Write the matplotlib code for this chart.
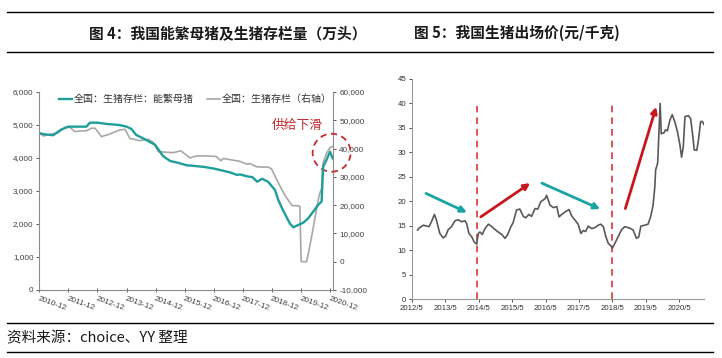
import matplotlib
matplotlib.use("Agg")
import matplotlib.pyplot as plt
import matplotlib.transforms as mtransforms
import matplotlib.dates as mdates
from matplotlib.patches import Circle
from matplotlib.lines import Line2D
import pandas as pd

plt.rcParams['font.family'] = ['Liberation Sans', 'Noto Sans CJK SC', 'DejaVu Sans']

# ---------------- data: left chart ----------------
sow_dates = ["2010-12-01", "2011-02-01", "2011-05-25", "2011-09-01", "2011-12-01", "2012-07-15",
             "2012-08-28", "2012-12-01", "2013-04-01", "2013-09-01", "2013-12-01", "2014-02-01",
             "2014-04-01", "2014-07-18", "2014-11-25", "2015-03-05", "2015-06-01", "2015-09-01",
             "2015-12-25", "2016-04-01", "2016-08-01", "2016-12-01", "2017-03-01", "2017-07-01",
             "2017-09-15", "2017-11-01", "2018-02-01", "2018-04-01", "2018-06-01", "2018-08-01",
             "2018-10-15", "2019-01-10", "2019-02-20", "2019-04-20", "2019-07-15", "2019-08-28",
             "2019-10-28", "2020-01-01", "2020-03-01", "2020-05-03", "2020-07-06", "2020-08-18",
             "2020-09-06", "2020-10-18", "2020-12-01", "2021-01-03"]
sow_values = [4750, 4720, 4690, 4860, 4950, 4950,
              5070, 5070, 5030, 5000, 4950, 4880,
              4700, 4570, 4400, 4060, 3910, 3860,
              3780, 3760, 3730, 3680, 3630, 3560,
              3490, 3500, 3440, 3420, 3280, 3370,
              3280, 3030, 2730, 2420, 2020, 1900,
              1970, 2040, 2170, 2370, 2580, 2680,
              3740, 3940, 4190, 3990]

hog_dates = ["2010-12-01", "2011-01-20", "2011-04-12", "2011-07-25", "2011-10-18", "2011-12-20",
             "2012-02-20", "2012-04-25", "2012-07-15", "2012-09-18", "2012-11-01", "2013-01-20",
             "2013-05-05", "2013-09-10", "2013-11-12", "2014-01-12", "2014-05-18", "2014-09-01",
             "2014-11-04", "2015-01-04", "2015-04-18", "2015-07-10", "2015-10-15", "2016-02-06",
             "2016-05-01", "2016-09-01", "2017-01-01", "2017-03-01", "2017-04-01", "2017-08-01",
             "2017-10-25", "2018-01-18", "2018-03-01", "2018-05-20", "2018-08-15", "2018-10-15",
             "2018-11-28", "2019-02-10", "2019-04-15", "2019-06-04", "2019-08-15", "2019-10-28",
             "2019-11-18", "2019-12-05", "2020-02-12", "2020-04-12", "2020-06-15", "2020-07-18",
             "2020-08-18", "2020-09-06", "2020-10-18", "2020-12-01", "2021-01-01"]
hog_values = [45600, 44450, 45000, 45600, 47500, 47500,
              46000, 46200, 46300, 47200, 47200, 44200,
              45150, 46600, 46800, 43600, 42800, 43300,
              42100, 38900, 38700, 38550, 39200, 36700,
              37400, 37400, 37200, 35700, 36500, 35900,
              35500, 34500, 34700, 33600, 33400, 33500,
              32800, 28500, 25000, 22600, 19800, 19800,
              19600, 0, 0, 8500, 18500, 23500,
              26000, 35000, 38300, 40300, 40700]

left_xlabels = ["2010-12", "2011-12", "2012-12", "2013-12", "2014-12", "2015-12",
                "2016-12", "2017-12", "2018-12", "2019-12", "2020-12"]
left_yticks = [0, 1000, 2000, 3000, 4000, 5000, 6000]
right_yticks = [-10000, 0, 10000, 20000, 30000, 40000, 50000, 60000]

# ---------------- data: right chart ----------------
price_dates = ["2012-07-04", "2012-07-19", "2012-09-07", "2012-10-13", "2012-11-07", "2012-12-07",
               "2013-01-04", "2013-01-25", "2013-03-04", "2013-04-10", "2013-05-07", "2013-06-04",
               "2013-07-10", "2013-08-16", "2013-09-22", "2013-10-28", "2013-12-04", "2013-12-22",
               "2014-01-16", "2014-02-16", "2014-03-13", "2014-04-10", "2014-04-28", "2014-05-16",
               "2014-06-10", "2014-07-10", "2014-08-16", "2014-09-22", "2014-10-28", "2014-12-01",
               "2015-01-10", "2015-02-13", "2015-03-13", "2015-04-19", "2015-05-13", "2015-06-19",
               "2015-07-25", "2015-09-01", "2015-09-28", "2015-11-01", "2015-12-01", "2016-01-07",
               "2016-02-07", "2016-03-10", "2016-04-25", "2016-05-13", "2016-06-19", "2016-07-25",
               "2016-09-01", "2016-09-25", "2016-11-01", "2016-12-07", "2017-01-13", "2017-02-10",
               "2017-03-16", "2017-04-22", "2017-05-22", "2017-06-16", "2017-07-13", "2017-08-10",
               "2017-09-16", "2017-10-22", "2017-11-28", "2017-12-25", "2018-01-22", "2018-02-16",
               "2018-03-16", "2018-04-13", "2018-05-01", "2018-05-28", "2018-07-01", "2018-08-10",
               "2018-09-13", "2018-11-07", "2018-12-13", "2019-01-19", "2019-02-13", "2019-03-07",
               "2019-04-19", "2019-05-25", "2019-06-22", "2019-07-19", "2019-08-07", "2019-08-16",
               "2019-09-07", "2019-09-19", "2019-10-04", "2019-10-16", "2019-11-16", "2019-12-01",
               "2019-12-22", "2020-01-19", "2020-02-13", "2020-03-13", "2020-04-10", "2020-05-07",
               "2020-05-25", "2020-06-13", "2020-07-01", "2020-08-07", "2020-09-01", "2020-09-25",
               "2020-10-10", "2020-11-07", "2020-11-25", "2020-12-19", "2021-01-07", "2021-01-28"]
price_values = [14.1, 14.5, 15.1, 14.9, 14.8, 16.0,
                17.3, 16.2, 13.4, 12.5, 12.9, 14.2,
                14.8, 16.0, 16.2, 15.8, 16.0, 15.4,
                13.4, 12.7, 11.7, 11.2, 13.4, 13.7,
                13.2, 14.4, 15.3, 14.8, 14.2, 13.7,
                13.2, 12.4, 13.1, 14.8, 15.6, 18.2,
                18.4, 16.9, 16.6, 17.3, 16.9, 18.5,
                18.4, 19.9, 20.5, 21.2, 19.2, 18.7,
                18.9, 16.8, 17.4, 17.9, 18.3, 17.0,
                16.2, 15.3, 13.4, 14.0, 13.8, 14.9,
                14.4, 14.6, 15.1, 15.3, 14.8, 12.9,
                11.4, 10.9, 10.4, 11.4, 12.7, 14.2,
                14.8, 14.5, 14.1, 12.4, 12.7, 14.9,
                15.1, 15.3, 16.8, 19.2, 23.0, 26.4,
                27.8, 33.2, 40.0, 33.8, 34.0, 34.6,
                34.4, 36.6, 37.7, 36.2, 34.2, 31.5,
                29.0, 31.2, 37.3, 37.5, 36.9, 33.2,
                30.5, 30.4, 32.5, 36.3, 36.3, 35.6]

right_xlabels = ["2012/5", "2013/5", "2014/5", "2015/5", "2016/5", "2017/5", "2018/5", "2019/5", "2020/5"]
price_yticks = [0, 5, 10, 15, 20, 25, 30, 35, 40, 45]

# turning points (dashed lines) and trend arrows
turn_dates = ["2014-04-15", "2018-05-01"]
turn_tops = [39.5, 40.0]
arrow_starts = [("2012-10-04", 21.6), ("2014-05-25", 16.8), ("2016-03-22", 23.7), ("2018-09-19", 18.5)]
arrow_ends = [("2013-12-25", 17.7), ("2015-11-16", 23.7), ("2017-12-19", 18.4), ("2019-08-22", 39.3)]
arrow_kinds = ["down", "up", "down", "up"]

# ---------------- figure ----------------
W, H = 722, 358
fig = plt.figure(figsize=(W / 100, H / 100), dpi=100)

def fx(px):
    return px / W

def fy(py):
    return 1 - py / H

# rules
for yy in (12, 52, 323, 352):
    fig.add_artist(Line2D([fx(7), fx(713)], [fy(yy), fy(yy)], color="black", lw=1.0))

cjk = ['Noto Sans CJK SC', 'DejaVu Sans']
fig.text(fx(89), fy(33), "图 4：我国能繁母猪及生猪存栏量（万头）", family=cjk, fontsize=10.6,
         fontweight="bold", ha="left", va="center", color="#1a1a1a")
fig.text(fx(414), fy(33), "图 5：我国生猪出场价(元/千克)", family=cjk, fontsize=10.6,
         fontweight="bold", ha="left", va="center", color="#1a1a1a")
fig.text(fx(7), fy(338), "资料来源：choice、YY 整理", family=cjk, fontsize=10.5,
         ha="left", va="center", color="#1a1a1a")

# ---------------- left chart ----------------
TEAL = "#1f9e9a"
GREY = "#a8a8a8"
TICKC = "#404040"
SPC = "#8c8c8c"

axL = fig.add_axes([fx(39.3), fy(290), fx(333) - fx(39.3), fy(92) - fy(290)])
axR = axL.twinx()
axL.set_zorder(axR.get_zorder() + 1)
axL.patch.set_visible(False)

sd = pd.to_datetime(sow_dates)
hd = pd.to_datetime(hog_dates)
l2, = axR.plot(hd, hog_values, color=GREY, lw=1.2)
l1, = axL.plot(sd, sow_values, color=TEAL, lw=1.7)

axL.set_ylim(0, 6000)
axR.set_ylim(-10000, 60000)
axL.set_yticks(left_yticks)
axL.set_yticklabels([f"{v:,}" for v in left_yticks])
axR.set_yticks(right_yticks)
axR.set_yticklabels([f"{v:,}" for v in right_yticks])
xt = pd.to_datetime([s + "-01" for s in left_xlabels])
axL.set_xticks(xt)
axL.set_xticklabels(left_xlabels, rotation=-20, ha="left", va="top", rotation_mode="anchor")
axL.set_xlim(pd.Timestamp("2010-12-01"), pd.Timestamp("2021-01-08"))

for a in (axL, axR):
    a.spines["top"].set_visible(False)
    for s in ("left", "right", "bottom"):
        a.spines[s].set_color(SPC)
        a.spines[s].set_linewidth(0.8)
axL.spines["right"].set_visible(False)
axR.spines["left"].set_visible(False)
axR.spines["bottom"].set_visible(False)
axL.tick_params(axis="y", labelsize=5.9, colors=TICKC, length=2, width=0.6, pad=2)
axL.tick_params(axis="x", labelsize=5.9, colors=TICKC, length=3, width=0.6, pad=2, direction="inout")
axR.tick_params(axis="y", labelsize=5.9, colors=TICKC, length=2.5, width=0.6, pad=2)
for a in (axL, axR):
    for t in a.get_xticklabels() + a.get_yticklabels():
        t.set_color(TICKC)

leg = axL.legend([l1, l2], ["全国：生猪存栏：能繁母猪", "全国：生猪存栏（右轴）"], ncol=2,
                 loc="upper left", bbox_to_anchor=(0.035, 1.035), frameon=False,
                 prop={"family": cjk, "size": 7.2}, handlelength=1.3, handletextpad=0.2,
                 columnspacing=1.3)
for t in leg.get_texts():
    t.set_color("#333333")

RED_T = "#c62a2f"
axL.text(pd.Timestamp("2019-10-20"), 4980, "供给下滑", family=cjk, fontsize=9.2,
         color=RED_T, ha="center", va="center")
circ_x = mdates.date2num(pd.Timestamp("2020-12-22"))
circ_tr = fig.dpi_scale_trans + mtransforms.ScaledTranslation(circ_x, 4160, axL.transData)
circ = Circle((0, 0), radius=0.19, transform=circ_tr, fill=False, edgecolor=RED_T,
              lw=1.3, linestyle=(0, (3.5, 2.5)), clip_on=False)
axL.add_artist(circ)

# ---------------- right chart ----------------
axP = fig.add_axes([fx(411.7), fy(299), fx(704.3) - fx(411.7), fy(79) - fy(299)])
pdates = pd.to_datetime(price_dates)
axP.plot(pdates, price_values, color="#595959", lw=1.2, zorder=3)
axP.set_ylim(0, 45)
axP.set_yticks(price_yticks)
pxt = pd.to_datetime([s.replace("/", "-") + "-01" for s in right_xlabels])
axP.set_xticks(pxt)
axP.set_xticklabels(right_xlabels)
axP.set_xlim(pd.Timestamp("2012-05-01"), pd.Timestamp("2021-01-28"))
for s in ("top", "right"):
    axP.spines[s].set_visible(False)
for s in ("left", "bottom"):
    axP.spines[s].set_color("#999999")
    axP.spines[s].set_linewidth(0.8)
axP.tick_params(axis="both", labelsize=5.6, colors="#333333", length=2, width=0.6, pad=2)
for t in axP.get_xticklabels() + axP.get_yticklabels():
    t.set_color("#333333")

RED_D = "#e0323a"
axP.vlines(pd.to_datetime(turn_dates), 0, turn_tops, colors=RED_D, lw=1.2,
           linestyles=(0, (4, 3)), zorder=2)

ARROW_C = {"down": "#1aa3a3", "up": "#c8161d"}
for (sdte, sv), (edte, ev), kind in zip(arrow_starts, arrow_ends, arrow_kinds):
    axP.annotate("", xy=(pd.Timestamp(edte), ev), xytext=(pd.Timestamp(sdte), sv),
                 arrowprops=dict(arrowstyle="-|>", color=ARROW_C[kind], lw=2.0,
                                 mutation_scale=9, shrinkA=0, shrinkB=0), zorder=4)

fig.savefig("out.png", dpi=100)
